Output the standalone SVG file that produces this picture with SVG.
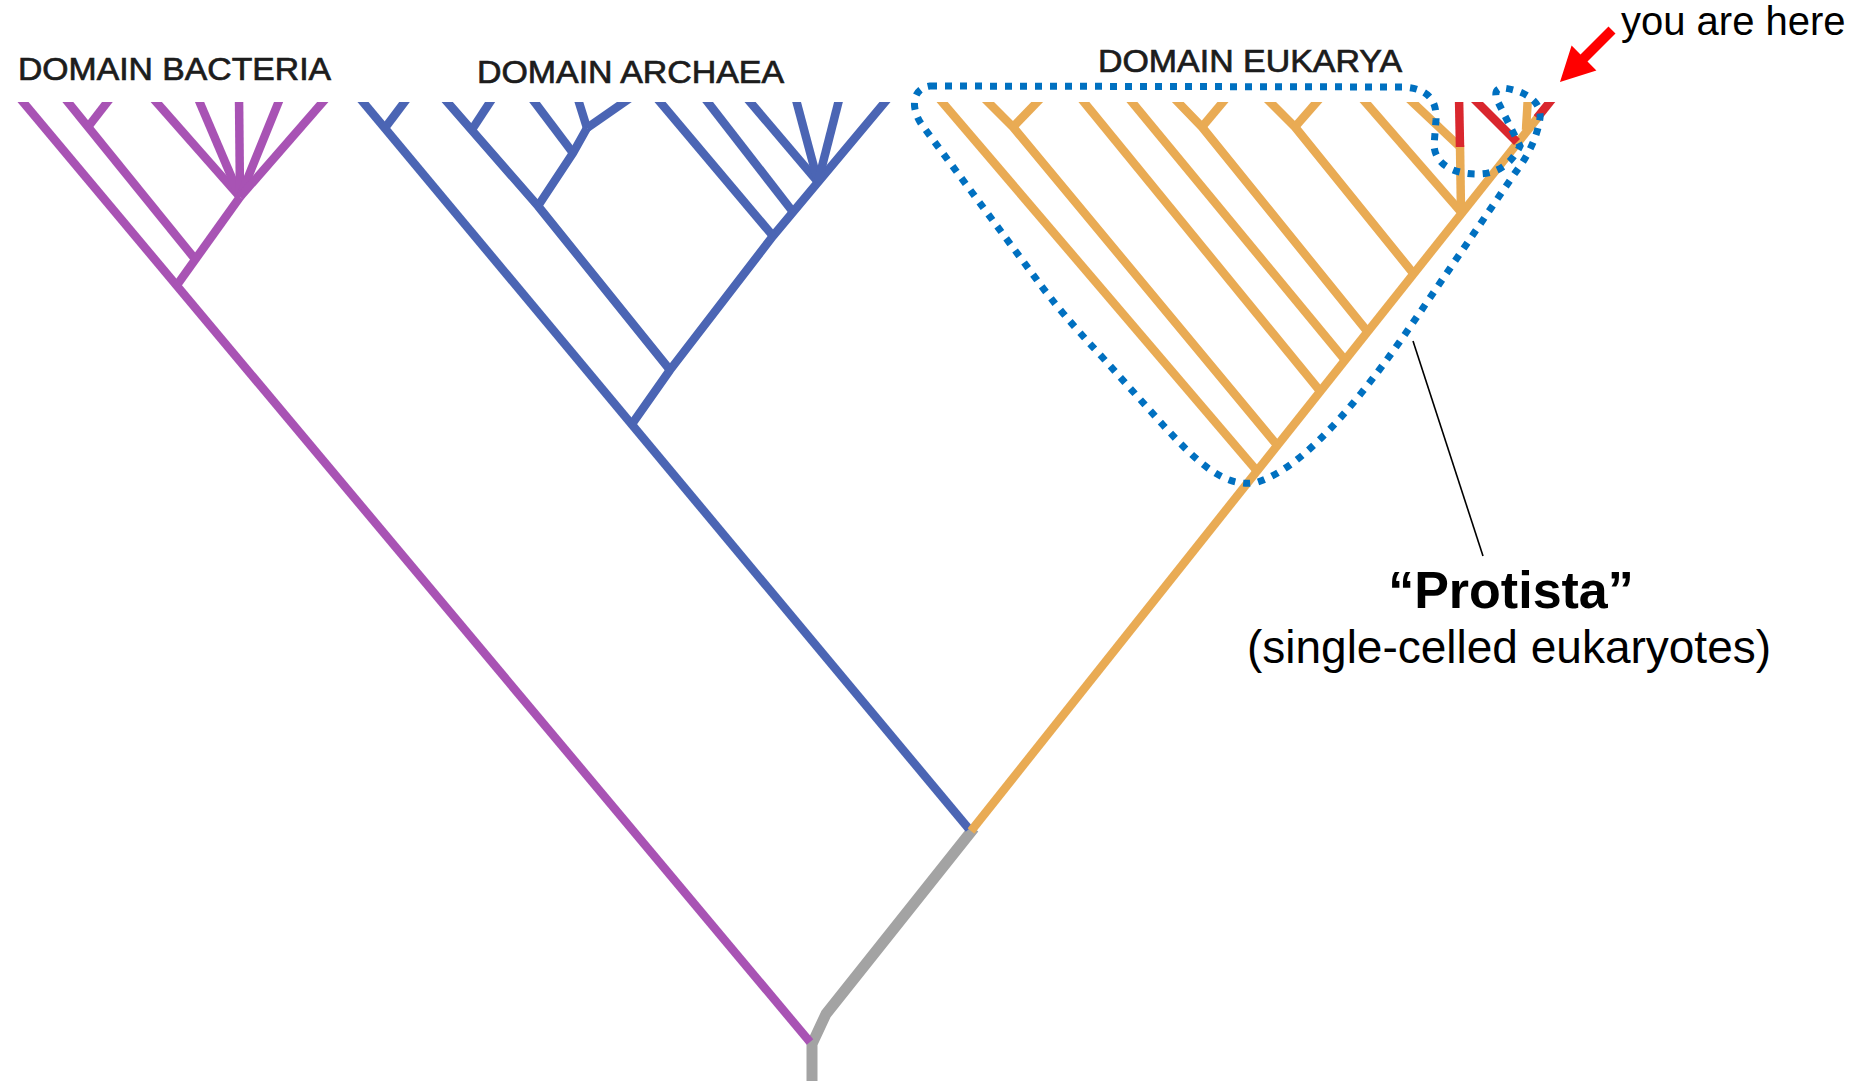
<svg xmlns="http://www.w3.org/2000/svg" width="1855" height="1081" viewBox="0 0 1855 1081">
<style>
.br{fill:none;stroke-width:8.5;stroke-linecap:butt;stroke-linejoin:round}
.p{stroke:#A853B4}
.b{stroke:#4B65B4}
.o{stroke:#E9AB54}
.r{stroke:#D9272E}
.g{fill:none;stroke:#A3A3A3;stroke-width:11;stroke-linejoin:round}
.dom{font-family:"Liberation Sans",Arial,sans-serif;font-size:32px;fill:#1c1c1c;stroke:#1c1c1c;stroke-width:0.7}
.lab{font-family:"Liberation Sans",Arial,sans-serif;fill:#000}
.dot{fill:none;stroke:#0070C0;stroke-width:7;stroke-dasharray:7 8}
</style>
<defs>
<clipPath id="top"><rect x="0" y="102" width="1855" height="979"/></clipPath>
</defs>
<rect width="1855" height="1081" fill="#fff"/>

<g id="connectors">
  <polyline class="g" points="812,1081 812,1044 826,1014 974,828"/>
  <g clip-path="url(#top)">
    <g id="bacteria-tree" class="br p">
      <line x1="18" y1="96" x2="810" y2="1042"/>
      <line x1="63" y1="96" x2="195" y2="259"/>
      <line x1="112" y1="96" x2="88" y2="127"/>
      <line x1="177" y1="285" x2="240" y2="197"/>
      <line x1="151" y1="96" x2="240" y2="197"/>
      <line x1="197" y1="96" x2="240" y2="197"/>
      <line x1="239" y1="96" x2="240" y2="197"/>
      <line x1="281" y1="96" x2="240" y2="197"/>
      <line x1="328" y1="96" x2="240" y2="197"/>
    </g>
    <g id="archaea-tree" class="br b">
      <line x1="358" y1="96" x2="969" y2="829"/>
      <line x1="409" y1="96" x2="385" y2="128"/>
      <polyline points="442,96 538,206 670,370"/>
      <line x1="494" y1="96" x2="473" y2="128"/>
      <line x1="530" y1="96" x2="573" y2="153"/>
      <line x1="577" y1="96" x2="587" y2="128"/>
      <line x1="633" y1="96" x2="587" y2="128"/>
      <polyline points="587,128 573,153 538,206"/>
      <polyline points="632,424 670,370 773,236 890,96"/>
      <line x1="655" y1="96" x2="773" y2="236"/>
      <line x1="703" y1="96" x2="793" y2="212"/>
      <line x1="745" y1="96" x2="818" y2="182"/>
      <line x1="795" y1="96" x2="818" y2="182"/>
      <line x1="840" y1="96" x2="818" y2="182"/>
    </g>
    <g id="eukarya-tree" class="br o">
      <line x1="971" y1="831" x2="1539" y2="116"/>
      <line x1="937" y1="96" x2="1257" y2="471"/>
      <polyline points="982,96 1013,127 1277,445"/>
      <line x1="1043" y1="96" x2="1013" y2="127"/>
      <line x1="1079" y1="96" x2="1320" y2="391"/>
      <line x1="1127" y1="96" x2="1345" y2="360"/>
      <polyline points="1172,96 1202,127 1367,331"/>
      <line x1="1228" y1="96" x2="1202" y2="127"/>
      <polyline points="1264,96 1295,127 1413,273"/>
      <line x1="1322" y1="96" x2="1295" y2="127"/>
      <line x1="1360" y1="96" x2="1461" y2="212"/>
      <line x1="1406" y1="96" x2="1460" y2="147"/>
      <line x1="1460" y1="145" x2="1461" y2="212"/>
      <line x1="1528" y1="96" x2="1526" y2="130"/>
    </g>
    <g id="animals-tree" class="br r">
      <line x1="1459" y1="96" x2="1460" y2="147"/>
      <line x1="1471" y1="96" x2="1517" y2="142"/>
      <line x1="1537" y1="118" x2="1557" y2="93"/>
    </g>
  </g>
  <line x1="1413" y1="341" x2="1483" y2="556" stroke="#000" stroke-width="1.6"/>
  <polygon points="1560,82 1571.6,45.6 1580.5,54.5 1608.5,26.5 1615.5,33.5 1587.5,61.5 1596.4,70.4" fill="#FF0000"/>
</g>

<g id="protista-outline">
  <path class="dot" d="M 930,86 L 1402,87 C 1428,88 1437,100 1436,120 L 1434,146 C 1436,166 1455,174 1478,174 C 1498,174 1512,163 1520,146 L 1497,100 C 1494,92 1497,88 1503,88 C 1522,90 1542,100 1540,118 C 1537,140 1525,160 1515,173 L 1410,327 C 1370,385 1310,465 1258,482 C 1225,490 1195,460 1163,425 L 1103,358 Q 1060,312 1037,280 L 922,125 C 910,108 912,88 930,86 Z"/>
</g>

<g id="label-bacteria"><text class="dom" x="18" y="80" textLength="313" lengthAdjust="spacingAndGlyphs">DOMAIN BACTERIA</text></g>
<g id="label-archaea"><text class="dom" x="477" y="83" textLength="307" lengthAdjust="spacingAndGlyphs">DOMAIN ARCHAEA</text></g>
<g id="label-eukarya"><text class="dom" x="1098" y="72" textLength="304" lengthAdjust="spacingAndGlyphs">DOMAIN EUKARYA</text></g>
<g id="label-you-are-here"><text class="lab" x="1621" y="35" font-size="40">you are here</text></g>
<g id="label-protista">
  <text class="lab" x="1511" y="608" font-size="52" font-weight="bold" text-anchor="middle">“Protista”</text>
  <text class="lab" x="1509" y="663" font-size="46" text-anchor="middle">(single-celled eukaryotes)</text>
</g>
</svg>
